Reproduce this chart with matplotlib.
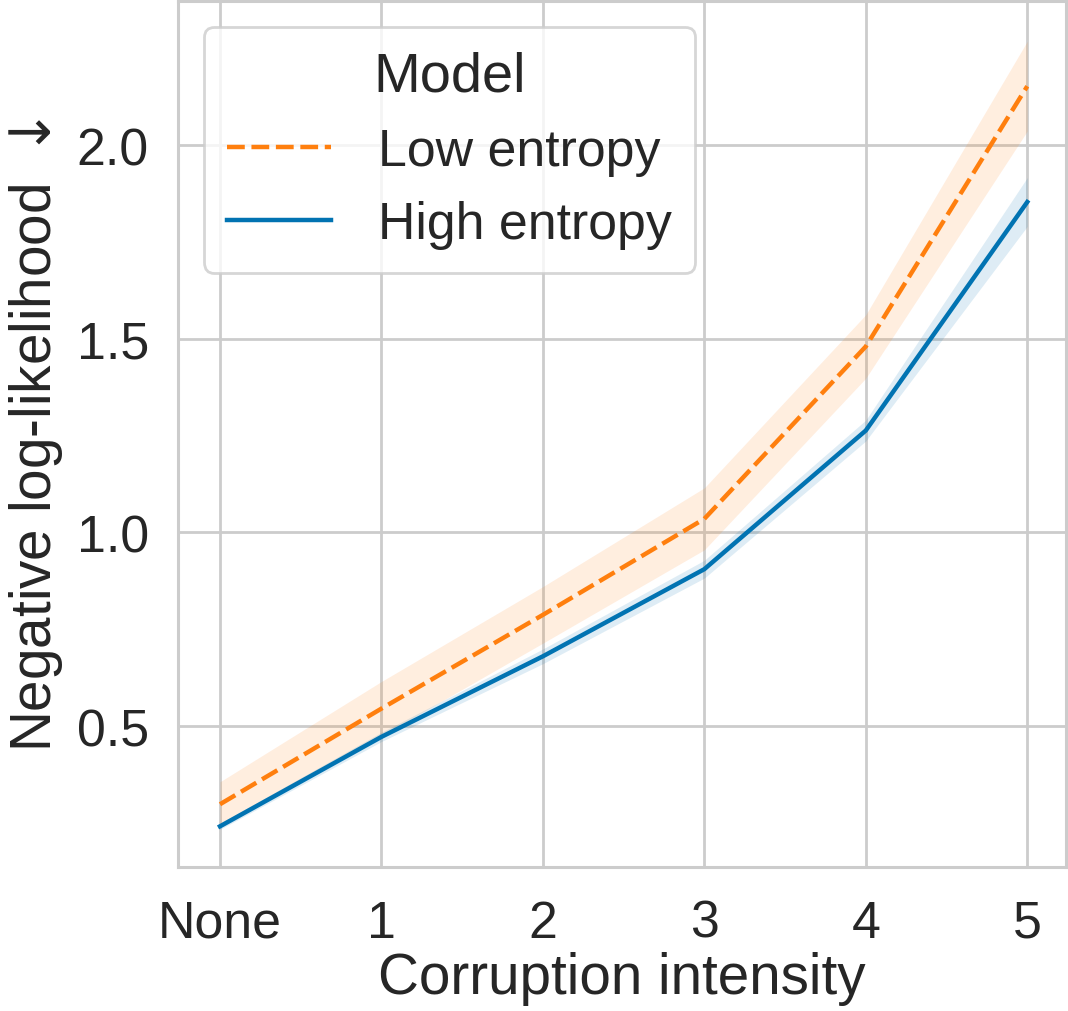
import matplotlib
matplotlib.use("Agg")
import matplotlib.pyplot as plt
import numpy as np

categories = ["None", "1", "2", "3", "4", "5"]
low_entropy = [0.298, 0.545, 0.787, 1.035, 1.480, 2.152]
low_entropy_ci = [0.058, 0.070, 0.073, 0.080, 0.082, 0.116]
high_entropy = [0.241, 0.472, 0.680, 0.905, 1.263, 1.853]
high_entropy_ci = [0.008, 0.012, 0.019, 0.023, 0.027, 0.063]
series_labels = ["Low entropy", "High entropy"]

plt.rcParams['font.family'] = ['Liberation Sans', 'DejaVu Sans']
TXT = '#262626'
GRID = '#cccccc'
ORANGE = '#ff7f0e'
BLUE = '#0173b2'

fig = plt.figure(figsize=(10.68, 10.12), dpi=100)
W, H = 1068, 1012
l, r, t, b = 178, 1066, 2, 868
ax = fig.add_axes([l / W, 1 - b / H, (r - l) / W, (b - t) / H])

x = np.arange(len(categories))
lo = np.array(low_entropy); loe = np.array(low_entropy_ci)
hi = np.array(high_entropy); hie = np.array(high_entropy_ci)

ax.fill_between(x, lo - loe, lo + loe, color=ORANGE, alpha=0.13, linewidth=0)
ax.fill_between(x, hi - hie, hi + hie, color=BLUE, alpha=0.13, linewidth=0)
ax.plot(x, lo, color=ORANGE, lw=3.2, linestyle=(0, (4, 1.5)), label=series_labels[0])
ax.plot(x, hi, color=BLUE, lw=3.2, label=series_labels[1])

ax.set_xlim(-0.26, 5.24)
ax.set_ylim(0.136, 2.372)
ax.set_xticks(x)
ax.set_xticklabels(categories)
ax.set_yticks([0.5, 1.0, 1.5, 2.0])

ax.grid(True, color=GRID, linewidth=2.0)
ax.set_axisbelow(True)
for s in ax.spines.values():
    s.set_color(GRID)
    s.set_linewidth(2.2)
ax.tick_params(axis='both', length=0, labelsize=37.4, colors=TXT)
ax.tick_params(axis='x', pad=23)
ax.tick_params(axis='y', pad=21)

ax.set_xlabel("Corruption intensity", fontsize=40.8, color=TXT, labelpad=2)
ax.set_ylabel("Negative log-likelihood $\\downarrow$", fontsize=40.8, color=TXT, labelpad=8)

leg = ax.legend(title="Model", loc='upper left', fontsize=37.4, title_fontsize=40.3,
                handlelength=2.0, handletextpad=0.9, labelspacing=0.47,
                framealpha=0.8, edgecolor=GRID, fancybox=True, borderpad=0.45)
leg.get_frame().set_linewidth(2.0)
for txt in leg.get_texts():
    txt.set_color(TXT)
leg.get_title().set_color(TXT)

fig.savefig("out.png", dpi=100)
